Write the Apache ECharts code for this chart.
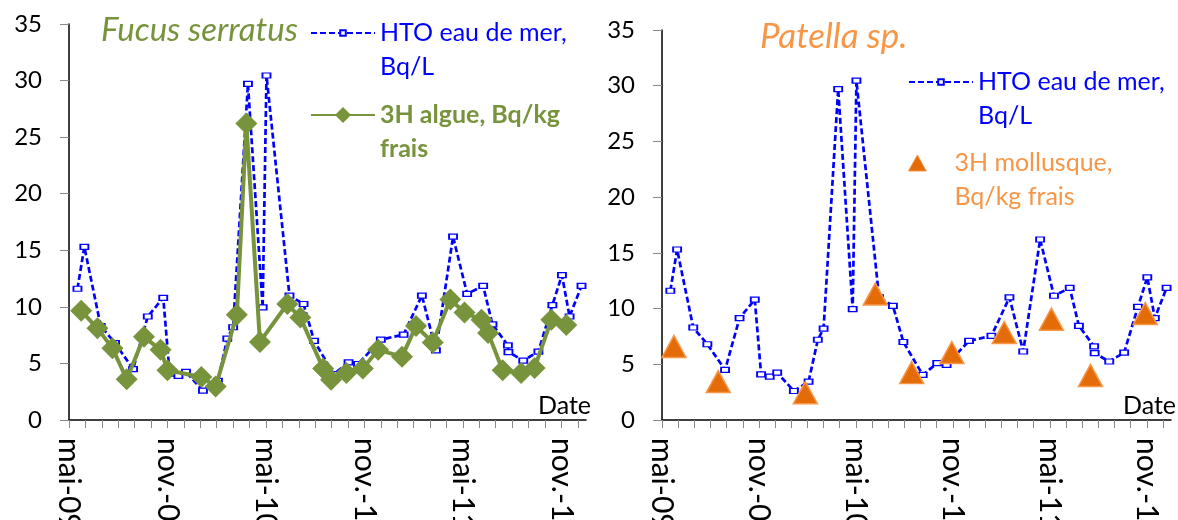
<!DOCTYPE html>
<html><head><meta charset="utf-8">
<script src="https://cdn.jsdelivr.net/npm/echarts@6/dist/echarts.min.js"></script>
<style>html,body{margin:0;padding:0;background:#fff}#c{width:1178px;height:520px}</style>
</head><body><div id="c"></div>
<script>
// ---- data ----
const htoDates = ['2009-05-17','2009-05-30','2009-06-29','2009-07-26','2009-08-29','2009-09-25','2009-10-24','2009-11-05','2009-11-21','2009-12-05','2010-01-06','2010-02-03','2010-02-19','2010-03-01','2010-03-29','2010-04-25','2010-05-02','2010-06-14','2010-07-10','2010-07-30','2010-09-05','2010-10-02','2010-10-20','2010-12-01','2011-01-13','2011-02-15','2011-03-12','2011-04-13','2011-05-09','2011-06-08','2011-06-25','2011-07-24','2011-07-25','2011-08-22','2011-09-19','2011-10-15','2011-11-02','2011-11-16','2011-12-08'];
const htoValues = [11.6,15.3,8.3,6.8,4.5,9.15,10.8,4.1,3.9,4.25,2.6,3.45,7.2,8.2,29.7,9.95,30.45,11.0,10.25,7.0,4.05,5.1,4.95,7.1,7.55,11.0,6.15,16.2,11.15,11.85,8.45,6.6,6.0,5.25,6.05,10.15,12.8,9.15,11.85];
const algueDates = ['2009-05-24','2009-06-23','2009-07-21','2009-08-17','2009-09-18','2009-10-19','2009-11-01','2010-01-03','2010-01-30','2010-03-08','2010-03-26','2010-04-20','2010-06-10','2010-07-04','2010-08-16','2010-08-31','2010-09-28','2010-10-29','2010-11-26','2011-01-10','2011-02-05','2011-03-06','2011-04-08','2011-05-04','2011-06-05','2011-06-17','2011-07-14','2011-08-18','2011-09-12','2011-10-13','2011-11-10'];
const algueValues = [9.65,8.1,6.35,3.6,7.35,6.2,4.4,3.8,2.95,9.3,26.2,6.9,10.25,9.05,4.55,3.55,4.15,4.55,6.2,5.6,8.3,6.85,10.65,9.5,8.85,7.7,4.4,4.15,4.6,8.85,8.4];
const molluscDates = ['2009-05-24','2009-08-16','2010-01-28','2010-06-07','2010-08-15','2010-10-30','2011-02-06','2011-05-04','2011-07-17','2011-10-29'];
const molluscValues = [6.6,3.45,2.45,11.3,4.25,6.05,7.85,9.05,4.0,9.55];
const tickMonths = [0,6,12,18,24,30];
const tickLabels = ['mai-09','nov.-09','mai-10','nov.-10','mai-11','nov.-11'];
const seriesNames = ['HTO eau de mer,\nBq/L','3H algue, Bq/kg\nfrais','3H mollusque,\nBq/kg frais'];
const titles = ['Fucus serratus','Patella sp.'];

// month offset from 1 May 2009 (fractional)
function toMonth(s){
  const [y,m,d] = s.split('-').map(Number);
  const dim = new Date(y, m, 0).getDate();
  return (y-2009)*12 + (m-5) + (d-1)/dim;
}
const pairs = (ds, vs) => ds.map((d,i)=>[toMonth(d), vs[i]]);

const FONT = 'Lato';
const BLUE = '#0000FF', GREEN = '#77933C', ORANGE = '#E36C09', LORANGE = '#F79646';

function xAxis(gi){
  return {
    type:'value', gridIndex:gi, min:0, max:31.5, interval:1,
    axisLine:{lineStyle:{color:'#000', width:1.5}},
    axisTick:{show:true, length:8, lineStyle:{color:'#888', width:1}},
    splitLine:{show:false},
    axisLabel:{rotate:-90, margin:18, fontSize:30, color:'#000', fontFamily:FONT,
      showMaxLabel:false,
      formatter: v => { const k = tickMonths.indexOf(Math.round(v*1000)/1000); return k>=0 ? tickLabels[k] : ''; }},
    name:'Date', nameLocation:'end', nameGap:5,
    nameTextStyle:{align:'right', verticalAlign:'bottom', fontSize:25, color:'#000', fontFamily:FONT, lineHeight:25, padding:[0,0,2,0]}
  };
}
function yAxis(gi){
  return {
    type:'value', gridIndex:gi, min:0, max:35, interval:5,
    axisLine:{show:true, lineStyle:{color:'#000', width:1.5}},
    axisTick:{show:true, length:9, lineStyle:{color:'#888', width:1}},
    splitLine:{show:false},
    axisLabel:{margin:27, fontSize:24, color:'#000', fontFamily:FONT}
  };
}
function htoSeries(i){
  return {
    name:seriesNames[0], type:'line', xAxisIndex:i, yAxisIndex:i,
    data:pairs(htoDates, htoValues),
    lineStyle:{color:BLUE, width:2.7, type:[6,3]},
    symbol:'rect', symbolSize:[8,5],
    itemStyle:{color:'#fff', borderColor:BLUE, borderWidth:1.5},
    z:2
  };
}
// one legend component per entry, so each icon can have its own size;
// a blank first line keeps the icon level with the first text line
function legendOne(left, top, item, itemHeight){
  return {
    orient:'vertical', left:left, top:top, padding:0,
    itemWidth:64, itemHeight:itemHeight,
    formatter: n => ' \n' + n,
    textStyle:{fontSize:25, fontFamily:FONT, lineHeight:34},
    data:[item]
  };
}

const chart = echarts.init(document.getElementById('c'), null, {renderer:'canvas'});
chart.setOption({
  animation:false,
  backgroundColor:'#fff',
  title:[
    {text:titles[0], left:101, top:14, padding:0, textStyle:{fontStyle:'italic', fontWeight:'normal', fontSize:33, color:GREEN, fontFamily:FONT}},
    {text:titles[1], left:760, top:19, padding:0, textStyle:{fontStyle:'italic', fontWeight:'normal', fontSize:35, color:LORANGE, fontFamily:FONT}}
  ],
  legend:[
    legendOne(310, -18, {name:seriesNames[0], textStyle:{color:BLUE}}, 7),
    legendOne(310, 64, {name:seriesNames[1], textStyle:{color:GREEN, fontWeight:'bold'}}, 20),
    legendOne(908, 31, {name:seriesNames[0], textStyle:{color:BLUE}}, 7),
    legendOne(908, 112, {name:seriesNames[2], textStyle:{color:LORANGE},
      icon:'path://M10,0 L20,18 L0,18 Z', itemStyle:{color:ORANGE, borderColor:LORANGE, borderWidth:1}}, 16)
  ],
  grid:[
    {left:69, top:24, width:517, height:396, outerBoundsMode:'none'},
    {left:662, top:30, width:509, height:390, outerBoundsMode:'none'}
  ],
  xAxis:[xAxis(0), xAxis(1)],
  yAxis:[yAxis(0), yAxis(1)],
  series:[
    htoSeries(0),
    {
      name:seriesNames[1], type:'line', xAxisIndex:0, yAxisIndex:0,
      data:pairs(algueDates, algueValues),
      lineStyle:{color:GREEN, width:4},
      symbol:'diamond', symbolSize:22,
      itemStyle:{color:GREEN},
      z:3
    },
    htoSeries(1),
    {
      name:seriesNames[2], type:'scatter', xAxisIndex:1, yAxisIndex:1,
      data:pairs(molluscDates, molluscValues),
      symbol:'triangle', symbolSize:[24,22],
      itemStyle:{color:ORANGE, borderColor:LORANGE, borderWidth:1.5, opacity:1},
      z:3
    }
  ]
});
</script>
</body></html>
